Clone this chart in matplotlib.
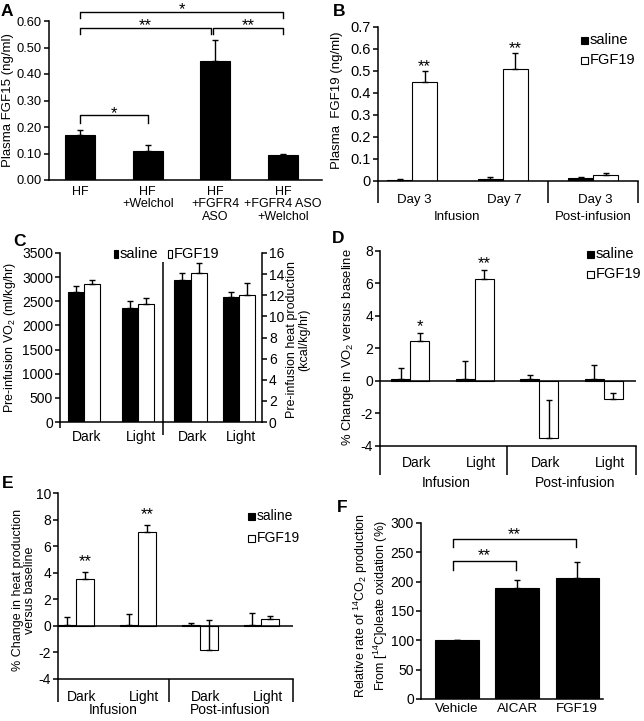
import matplotlib
matplotlib.use('Agg')
import matplotlib.pyplot as plt
from matplotlib.patches import Rectangle
import numpy as np

plt.rcParams['font.family'] = ['Liberation Sans', 'DejaVu Sans']
plt.rcParams['axes.unicode_minus'] = False
plt.rcParams['mathtext.fontset'] = 'custom'
plt.rcParams['mathtext.rm'] = 'Liberation Sans'
plt.rcParams['mathtext.it'] = 'Liberation Sans:italic'

# ---------------- data ----------------
# Panel A
a_groups = ['HF', 'HF\n+Welchol', 'HF\n+FGFR4\nASO', 'HF\n+FGFR4 ASO\n+Welchol']
a_vals = [0.17, 0.11, 0.45, 0.093]
a_err = [0.017, 0.023, 0.08, 0.006]
a_ticks = [0.0, 0.1, 0.2, 0.3, 0.4, 0.5, 0.6]

# Panel B
b_days = ['Day 3', 'Day 7', 'Day 3']
b_phases = ['Infusion', 'Post-infusion']
b_saline = [0.006, 0.010, 0.012]
b_saline_err = [0.003, 0.006, 0.006]
b_fgf19 = [0.45, 0.51, 0.026]
b_fgf19_err = [0.05, 0.07, 0.012]
b_sig = ['**', '**', '']
b_ticks = [0, 0.1, 0.2, 0.3, 0.4, 0.5, 0.6, 0.7]

# Panel C
c_periods = ['Dark', 'Light']
c_vo2_saline = [2700, 2370]
c_vo2_saline_err = [120, 140]
c_vo2_fgf19 = [2855, 2445]
c_vo2_fgf19_err = [90, 130]
c_heat_saline = [13.45, 11.8]
c_heat_saline_err = [0.65, 0.55]
c_heat_fgf19 = [14.1, 12.0]
c_heat_fgf19_err = [0.95, 1.15]

# Panel D
d_periods = ['Dark', 'Light', 'Dark', 'Light']
d_phases = ['Infusion', 'Post-infusion']
d_saline = [0.1, 0.1, 0.1, 0.1]
d_saline_err = [0.7, 1.15, 0.25, 0.9]
d_fgf19 = [2.45, 6.3, -3.5, -1.1]
d_fgf19_err = [0.5, 0.55, 2.35, 0.38]
d_sig = ['*', '**', '', '']

# Panel E
e_periods = ['Dark', 'Light', 'Dark', 'Light']
e_phases = ['Infusion', 'Post-infusion']
e_saline = [0.05, 0.05, 0.05, 0.05]
e_saline_err = [0.6, 0.85, 0.2, 0.95]
e_fgf19 = [3.5, 7.05, -1.8, 0.5]
e_fgf19_err = [0.55, 0.55, 2.25, 0.25]
e_sig = ['**', '**', '', '']

# Panel F
f_groups = ['Vehicle', 'AICAR', 'FGF19']
f_vals = [100, 190, 207]
f_err = [0, 12, 27]

# ---------------- helpers ----------------
W, H = 644, 721
fig = plt.figure(figsize=(W / 100, H / 100), dpi=100)
LW = 1.1
TICK = 10
LAB = 10
STAR = 12
LETTER = 12.5


def px_ax(x0, y0, x1, y1):
    ax = fig.add_axes([x0 / W, 1 - y1 / H, (x1 - x0) / W, (y1 - y0) / H])
    ax.patch.set_alpha(0)
    ax._pxrect = (x0, y0, x1, y1)
    for s in ['top', 'right']:
        ax.spines[s].set_visible(False)
    for s in ['left', 'bottom', 'right']:
        ax.spines[s].set_linewidth(LW)
    ax.tick_params(axis='y', direction='out', length=3.5, width=LW, labelsize=TICK, pad=1.5)
    ax.tick_params(axis='x', length=0, labelsize=LAB)
    return ax


def yf(ax, ypx):
    x0, y0, x1, y1 = ax._pxrect
    return (y1 - ypx) / (y1 - y0)


def ext_vline(ax, x, ytop, ybot):
    ax.plot([x, x], [yf(ax, ytop), yf(ax, ybot)], transform=ax.get_xaxis_transform(),
            color='k', lw=LW, clip_on=False, solid_capstyle='butt')


def xtext(ax, x, ypx, s, size=LAB, **kw):
    ax.text(x, yf(ax, ypx), s, transform=ax.get_xaxis_transform(), ha='center',
            va='center', clip_on=False, fontsize=size, **kw)


def ftext(xpx, ypx, s, **kw):
    fig.text(xpx / W, 1 - ypx / H, s, **kw)


def legend_item(xpx, ypx, w, h, filled, label, size=10.5):
    fig.add_artist(Rectangle((xpx / W, 1 - (ypx + h / 2) / H), w / W, h / H,
                             facecolor='black' if filled else 'white',
                             edgecolor='black', lw=0.8, transform=fig.transFigure))
    ftext(xpx + w + 2, ypx, label, ha='left', va='center', fontsize=size)


err_kw = dict(ecolor='black', elinewidth=1.0, capsize=2.5, capthick=1.0)


def bars(ax, x, vals, err, width, filled):
    ax.bar(x, vals, width, color='black' if filled else 'white', edgecolor='black',
           linewidth=0.8, yerr=[np.zeros(len(err)), err], error_kw=err_kw, zorder=2)


def bracket(ax, xa, xb, y, ylow, label, ystar):
    ax.plot([xa, xa, xb, xb], [ylow, y, y, ylow], color='k', lw=1.0, clip_on=False)
    ax.text((xa + xb) / 2, ystar, label, ha='center', va='center', fontsize=STAR, clip_on=False)


# ---------------- Panel A ----------------
axA = px_ax(49, 21, 322, 180)
xa = np.arange(len(a_vals))
bars(axA, xa, a_vals, a_err, 0.44, True)
axA.set_xlim(-0.458, 3.576)
axA.set_ylim(0, 0.6)
axA.set_yticks(a_ticks)
axA.set_yticklabels([f'{t:.2f}' for t in a_ticks])
axA.tick_params(axis='y', labelsize=9.3)
axA.set_xticks(xa)
axA.set_xticklabels(a_groups, fontsize=9, va='top', linespacing=1.1)
axA.tick_params(axis='x', pad=4)
bracket(axA, 0, 1, 0.245, 0.216, '*', 0.252)
bracket(axA, 0, 1.93, 0.572, 0.55, '**', 0.582)
bracket(axA, 1.97, 3, 0.572, 0.55, '**', 0.582)
bracket(axA, 0, 3, 0.635, 0.61, '*', 0.643)
ftext(8, 100, 'Plasma FGF15 (ng/ml)', rotation=90, ha='center', va='center', fontsize=9.5)
ftext(7, 11, 'A', fontsize=LETTER, fontweight='bold', ha='center', va='center')

# ---------------- Panel B ----------------
axB = px_ax(378, 27, 638, 181)
xb = np.arange(len(b_days))
wb = 0.276
bars(axB, xb - wb / 2, b_saline, b_saline_err, wb, True)
bars(axB, xb + wb / 2, b_fgf19, b_fgf19_err, wb, False)
axB.set_xlim(-0.376, 2.497)
axB.set_ylim(0, 0.7)
axB.set_yticks(b_ticks)
axB.set_yticklabels(['0'] + [f'{t:.1f}' for t in b_ticks[1:]])
axB.tick_params(axis='y', labelsize=10.5)
axB.set_xticks([])
for i, s in enumerate(b_sig):
    if s:
        axB.text(xb[i] + wb / 2, b_fgf19[i] + b_fgf19_err[i] + 0.022, s, ha='center',
                 va='center', fontsize=STAR)
ext_vline(axB, axB.get_xlim()[0], 181, 203)
ext_vline(axB, 1.5, 181, 203)
ext_vline(axB, axB.get_xlim()[1], 181, 203)
for i, d in enumerate(b_days):
    xtext(axB, xb[i] + 0.02, 200, d, size=9.5)
xtext(axB, 0.5, 217, b_phases[0], size=9.5)
xtext(axB, 2, 217, b_phases[1], size=9.5)
legend_item(581, 40, 7, 7, True, 'saline')
legend_item(581, 60, 7, 7, False, 'FGF19')
ftext(337, 100, 'Plasma  FGF19 (ng/ml)', rotation=90, ha='center', va='center', fontsize=9.5)
ftext(339, 11, 'B', fontsize=LETTER, fontweight='bold', ha='center', va='center')

# ---------------- Panel C ----------------
xc = np.arange(len(c_periods))
axC1 = px_ax(60, 253, 163, 422)
wc1 = 0.296
bars(axC1, xc - wc1 / 2, c_vo2_saline, c_vo2_saline_err, wc1, True)
bars(axC1, xc + wc1 / 2, c_vo2_fgf19, c_vo2_fgf19_err, wc1, False)
axC1.set_xlim(-0.444, 1.463)
axC1.set_ylim(0, 3500)
axC1.set_yticks(np.arange(0, 3501, 500))
axC1.set_xticks([])
for i, p in enumerate(c_periods):
    xtext(axC1, xc[i] + 0.05, 437, p)

axC2 = px_ax(163, 253, 262, 422)
wc2 = 0.33
bars(axC2, xc - wc2 / 2, c_heat_saline, c_heat_saline_err, wc2, True)
bars(axC2, xc + wc2 / 2, c_heat_fgf19, c_heat_fgf19_err, wc2, False)
axC2.set_xlim(-0.567, 1.474)
axC2.set_ylim(0, 16)
axC2.spines['left'].set_visible(False)
axC2.spines['right'].set_visible(True)
axC2.yaxis.tick_right()
axC2.set_yticks(np.arange(0, 17, 2))
axC2.set_xticks([])
for i, p in enumerate(c_periods):
    xtext(axC2, xc[i] + 0.05, 437, p)
ext_vline(axC1, axC1.get_xlim()[0], 422, 428)
ext_vline(axC2, axC2.get_xlim()[0], 262, 435)
legend_item(114, 254, 4, 8, True, 'saline')
legend_item(168, 254, 4, 8, False, 'FGF19')
ftext(10, 337, 'Pre-infusion VO$_2$ (ml/kg/hr)', rotation=90, ha='center', va='center', fontsize=9)
ftext(298, 340, 'Pre-infusion heat production\n(kcal/kg/hr)', rotation=90, ha='center',
      va='center', fontsize=9, linespacing=1.0)
ftext(20, 241, 'C', fontsize=LETTER, fontweight='bold', ha='center', va='center')

# ---------------- Panel D ----------------
axD = px_ax(380, 251, 636, 446)
xd = np.arange(len(d_periods))
wd = 0.295
axD.axhline(0, color='black', lw=LW, zorder=3)
bars(axD, xd - wd / 2, d_saline, d_saline_err, wd, True)
bars(axD, xd + wd / 2, d_fgf19, d_fgf19_err, wd, False)
axD.set_xlim(-0.473, 3.5)
axD.set_ylim(-4, 8)
axD.set_yticks(np.arange(-4, 9, 2))
axD.set_xticks([])
for i, s in enumerate(d_sig):
    if s:
        axD.text(xd[i] + wd / 2, d_fgf19[i] + d_fgf19_err[i] + 0.4, s, ha='center',
                 va='center', fontsize=STAR)
ext_vline(axD, axD.get_xlim()[0], 446, 475)
ext_vline(axD, 1.5, 446, 475)
ext_vline(axD, axD.get_xlim()[1], 446, 475)
for i, p in enumerate(d_periods):
    xtext(axD, xd[i] + 0.1, 463, p)
xtext(axD, 0.55, 483, d_phases[0])
xtext(axD, 2.55, 483, d_phases[1])
legend_item(587, 254, 7, 7, True, 'saline')
legend_item(587, 274, 7, 7, False, 'FGF19')
ftext(348, 347, '% Change in VO$_2$ versus baseline', rotation=90, ha='center', va='center',
      fontsize=9.4)
ftext(338, 238, 'D', fontsize=LETTER, fontweight='bold', ha='center', va='center')

# ---------------- Panel E ----------------
axE = px_ax(58, 493, 293, 679)
xe = np.arange(len(e_periods))
we = 0.29
axE.axhline(0, color='black', lw=LW, zorder=3)
bars(axE, xe - we / 2, e_saline, e_saline_err, we, True)
bars(axE, xe + we / 2, e_fgf19, e_fgf19_err, we, False)
axE.set_xlim(-0.29, 3.51)
axE.set_ylim(-4, 10)
axE.set_yticks(np.arange(-4, 11, 2))
axE.set_xticks([])
for i, s in enumerate(e_sig):
    if s:
        axE.text(xe[i] + we / 2, e_fgf19[i] + e_fgf19_err[i] + 0.75, s, ha='center',
                 va='center', fontsize=STAR)
ext_vline(axE, axE.get_xlim()[0], 679, 702)
ext_vline(axE, 1.5, 679, 702)
ext_vline(axE, axE.get_xlim()[1], 679, 702)
for i, p in enumerate(e_periods):
    xtext(axE, xe[i] + 0.1, 697, p)
xtext(axE, 0.6, 710, e_phases[0])
xtext(axE, 2.5, 710, e_phases[1])
legend_item(248, 516, 7, 7, True, 'saline', size=10)
legend_item(248, 538, 7, 7, False, 'FGF19', size=10)
ftext(24, 590, '% Change in heat production\nversus baseline', rotation=90, ha='center',
      va='center', fontsize=9, linespacing=1.05)
ftext(8, 483, 'E', fontsize=LETTER, fontweight='bold', ha='center', va='center')

# ---------------- Panel F ----------------
axF = px_ax(421, 523, 603, 699)
xf = np.arange(len(f_vals))
bars(axF, xf, f_vals, f_err, 0.72, True)
axF.set_xlim(-0.6, 2.43)
axF.set_ylim(0, 300)
axF.set_yticks(np.arange(0, 301, 50))
axF.set_xticks(xf)
axF.set_xticklabels(f_groups, fontsize=9.7)
axF.tick_params(axis='x', pad=3)
bracket(axF, -0.07, 0.98, 235, 220, '**', 244)
bracket(axF, -0.07, 1.98, 272, 259, '**', 281)
ftext(371, 606, 'Relative rate of $^{14}$CO$_2$ production\nFrom [$^{14}$C]oleate oxidation (%)',
      rotation=90, ha='center', va='center', fontsize=9, linespacing=1.1)
ftext(342, 507, 'F', fontsize=LETTER, fontweight='bold', ha='center', va='center')

fig.savefig('out.png', dpi=100)
